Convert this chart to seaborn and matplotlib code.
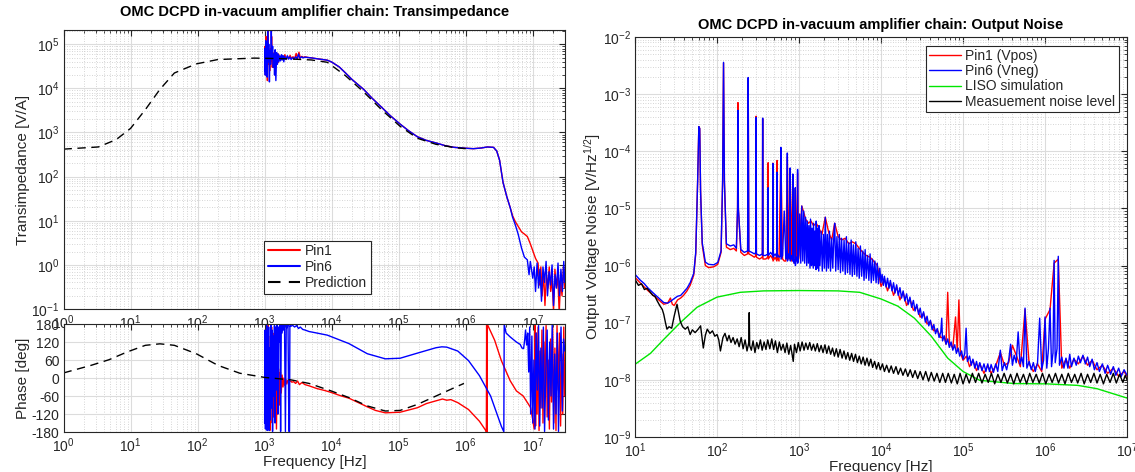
import numpy as np
import pandas as pd
import matplotlib
matplotlib.use("Agg")
import matplotlib.pyplot as plt
from matplotlib.ticker import LogLocator, NullFormatter, FixedLocator
import seaborn as sns

# ---------------- data: transimpedance (left top) ----------------
pred_f = [1, 3.3, 6.1, 10, 16.6, 27.4, 45, 95, 200, 700, 2000, 5000, 8600, 1.6e4, 3.0e4,
          5.65e4, 1.05e5, 1.9e5, 3.6e5, 6.8e5, 1.0e6]
pred_mag = [420, 470, 690, 1240, 3300, 9500, 22300, 35800, 45000, 48500, 47000, 44000, 39000,
            19500, 8300, 3200, 1380, 740, 540, 455, 430]

pin1_mag_f = [1000, 1015, 1030, 1045, 1060, 1080, 1100, 1120, 1140, 1165, 1190, 1215, 1240, 1270,
              1300, 1330, 1360, 1390, 1420, 1450, 1490, 1530, 1570, 1610, 1650, 1700, 1750, 1800,
              1850, 1900, 1950, 2000, 2100, 2200, 2300, 2400, 2500, 2650, 2800, 2950, 3100, 3250,
              3400, 3600, 3800, 4000, 4500, 5000, 6000, 7000, 8600, 1.0e4, 1.3e4, 1.6e4, 2.0e4,
              2.5e4, 3.0e4, 4.0e4, 5.65e4, 7.5e4, 1.05e5, 1.4e5, 1.9e5, 2.6e5, 3.6e5, 5.0e5,
              6.8e5, 1.0e6, 1.3e6, 1.7e6, 2.1e6, 2.6e6, 2.9e6, 3.2e6, 3.6e6, 4.1e6, 4.6e6, 5.0e6,
              5.5e6, 6.05e6, 6.8e6, 7.5e6, 8.3e6, 9.2e6, 1.0e7, 1.1e7, 1.2e7, 1.26e7, 1.32e7,
              1.38e7, 1.45e7, 1.52e7, 1.6e7, 1.68e7, 1.76e7, 1.85e7, 1.94e7, 2.04e7, 2.14e7,
              2.25e7, 2.36e7, 2.48e7, 2.6e7, 2.73e7, 2.87e7, 3.0e7]
pin1_mag = [30000, 90000, 20000, 150000, 40000, 60000, 15000, 220000, 35000, 70000, 25000, 80000,
            40000, 150000, 30000, 55000, 45000, 65000, 25000, 58000, 46000, 52000, 38000, 60000,
            44000, 50000, 47000, 55000, 45000, 53000, 48000, 58000, 47000, 52000, 49000, 56000,
            48000, 52000, 47000, 62000, 47000, 66000, 49000, 53000, 50000, 52000, 50000, 49000,
            47000, 45500, 43500, 39500, 30500, 22500, 16000, 12000, 9500, 6000, 3640, 2400, 1550,
            1100, 800, 660, 580, 500, 460, 440, 430, 445, 470, 460, 380, 235, 74, 35, 20, 13,
            9.5, 7.5, 5.6, 5.0, 4.4, 3.0, 2.1, 1.4, 1.1, 0.35, 0.9, 0.2, 0.7, 0.12, 0.6, 0.3,
            0.9, 0.25, 0.5, 0.09, 0.8, 0.3, 0.6, 0.08, 0.45, 0.2, 0.9, 0.3]

pin6_mag_f = [1000, 1008, 1022, 1038, 1052, 1070, 1090, 1110, 1130, 1152, 1178, 1202, 1228, 1255,
              1285, 1315, 1345, 1375, 1405, 1435, 1470, 1510, 1550, 1590, 1630, 1680, 1730, 1780,
              1830, 1880, 1930, 1990, 2080, 2180, 2280, 2380, 2480, 2620, 2760, 2900, 3050, 3200,
              3350, 3550, 3750, 3950, 4400, 5000, 6000, 7000, 8600, 1.0e4, 1.3e4, 1.6e4, 2.0e4,
              2.5e4, 3.0e4, 4.0e4, 5.65e4, 7.5e4, 1.05e5, 1.4e5, 1.9e5, 2.6e5, 3.6e5, 5.0e5,
              6.8e5, 1.0e6, 1.3e6, 1.7e6, 2.1e6, 2.6e6, 2.9e6, 3.2e6, 3.6e6, 4.1e6, 4.6e6, 5.0e6,
              5.5e6, 6.05e6, 6.8e6, 7.5e6, 8.3e6, 8.8e6, 9.2e6, 1.0e7, 1.05e7, 1.1e7, 1.16e7,
              1.22e7, 1.28e7, 1.35e7, 1.42e7, 1.5e7, 1.58e7, 1.66e7, 1.75e7, 1.84e7, 1.94e7,
              2.04e7, 2.15e7, 2.26e7, 2.38e7, 2.5e7, 2.63e7, 2.77e7, 2.9e7, 3.0e7]
pin6_mag = [25000, 80000, 20000, 120000, 30000, 90000, 18000, 200000, 40000, 100000, 14000, 70000,
            35000, 250000, 45000, 90000, 30000, 60000, 20000, 75000, 15000, 65000, 35000, 60000,
            40000, 55000, 42000, 58000, 44000, 55000, 40000, 53000, 45000, 55000, 46000, 52000,
            45000, 50000, 46000, 52000, 47000, 60000, 48000, 52000, 49000, 51000, 50000, 49000,
            47000, 45500, 43500, 39500, 30500, 22500, 16000, 12000, 9500, 6000, 3640, 2400, 1550,
            1100, 800, 660, 580, 500, 460, 440, 430, 445, 470, 460, 380, 235, 74, 35, 20, 12,
            8.0, 5.0, 2.4, 1.5, 1.3, 0.6, 1.2, 0.5, 0.9, 0.25, 1.1, 0.3, 0.8, 0.15, 0.9, 0.4,
            1.2, 0.2, 0.7, 0.35, 1.0, 0.12, 0.6, 0.3, 1.1, 0.2, 0.8, 0.25, 1.2, 0.4]

# ---------------- data: phase (left bottom) ----------------
pred_ph_f = [1, 2.55, 4.76, 8.9, 16.6, 27.4, 45, 95.5, 202, 426, 1000, 2450, 4600, 9800, 1.8e4,
             3.4e4, 6.3e4, 1.05e5, 1.9e5, 3.6e5, 6.8e5, 9.4e5]
pred_ph = [17, 42, 61, 87, 109, 114, 109, 81, 42, 16, 2, -6, -18, -43, -65, -93, -110, -108,
           -88, -60, -32, -18]

pin1_ph_f = [1000, 1010, 1025, 1040, 1055, 1070, 1090, 1110, 1130, 1150, 1170, 1195, 1220, 1245,
             1270, 1300, 1330, 1360, 1390, 1420, 1460, 1500, 1540, 1580, 1620, 1670, 1720, 1770,
             1820, 1880, 1940, 2000, 2070, 2140, 2210, 2280, 2360, 2450, 2550, 2700, 2900, 3100,
             3300, 3600, 4000, 4600, 6000, 8000, 9800, 1.4e4, 1.8e4, 2.5e4, 3.4e4, 4.5e4, 6.3e4,
             1.05e5, 1.5e5, 1.9e5, 2.6e5, 3.6e5, 4.5e5, 5.2e5, 6.0e5, 7.6e5, 1.1e6, 1.6e6, 1.95e6,
             2.03e6, 2.05e6, 2.08e6, 2.1e6, 2.7e6, 3.4e6, 4.6e6, 5.7e6, 7.2e6, 8.5e6, 9.3e6, 1.0e7,
             1.05e7, 1.08e7, 1.1e7, 1.13e7, 1.16e7, 1.2e7, 1.24e7, 1.28e7, 1.32e7, 1.37e7, 1.42e7,
             1.47e7, 1.52e7, 1.58e7, 1.64e7, 1.7e7, 1.77e7, 1.84e7, 1.91e7, 1.98e7, 2.06e7, 2.14e7,
             2.22e7, 2.3e7, 2.4e7, 2.5e7, 2.6e7, 2.7e7, 2.8e7, 2.9e7, 3.0e7]
pin1_ph = [40, -140, 130, -100, 160, -170, 60, -160, 175, -120, 100, -175, 140, -60, 170, -150,
           90, -130, 150, -80, 120, -170, 60, -120, 30, -90, 20, -50, 10, -30, 0, -25, -5, -20,
           -8, -15, -12, -10, -14, -12, -18, -10, -22, -15, -22, -26, -35, -42, -48, -60, -67,
           -82, -96, -108, -116, -114, -105, -99, -85, -76, -70, -74, -72, -82, -105, -144, -172,
           -179, 179, -179, 179, 126, 58, -9, -43, -60, -85, -99, -140, -170, 175, -160, 150,
           -120, 170, -175, 90, -100, 160, -150, 120, -60, 175, -130, 60, -170, 130, -80, 170,
           -150, 100, -175, 175, -40, 150, -160, 80, -120, 170, -60]

pin6_ph_f = [1000, 1012, 1028, 1042, 1058, 1075, 1092, 1110, 1128, 1148, 1168, 1190, 1212, 1235,
             1260, 1285, 1312, 1340, 1370, 1400, 1430, 1465, 1500, 1535, 1570, 1610, 1650, 1690,
             1730, 1770, 1820, 1870, 1920, 1980, 2040, 2100, 2160, 2230, 2300, 2350, 2380, 2450,
             2600, 2800, 3000, 3200, 3400, 3700, 4000, 4600, 6000, 8600, 1.8e4, 3.4e4, 6.3e4,
             1.05e5, 1.9e5, 3.6e5, 4.4e5, 5.2e5, 7.6e5, 1.1e6, 1.6e6, 2.35e6, 3.4e6, 3.7e6, 3.75e6,
             4.0e6, 4.6e6, 5.7e6, 6.5e6, 6.9e6, 7.3e6, 7.6e6, 7.8e6, 8.1e6, 8.4e6, 8.7e6, 9.0e6,
             9.3e6, 9.7e6, 1.0e7, 1.04e7, 1.08e7, 1.12e7, 1.17e7, 1.22e7, 1.27e7, 1.32e7, 1.38e7,
             1.44e7, 1.5e7, 1.57e7, 1.64e7, 1.71e7, 1.79e7, 1.87e7, 1.95e7, 2.04e7, 2.13e7, 2.22e7,
             2.32e7, 2.42e7, 2.53e7, 2.64e7, 2.76e7, 2.88e7, 3.0e7]
pin6_ph = [-150, 160, -170, 120, -90, 175, -175, 150, -60, 170, -175, 100, -140, 178, -100, 160,
           -178, 140, -60, 175, -150, 170, -40, 178, -120, 170, 120, 178, -178, 175, 150, 178, 160,
           175, -178, 178, 168, 178, -178, -178, 175, 172, 176, 170, 175, 165, 170, 162, 160, 155,
           150, 143, 115, 81, 64, 66, 83, 101, 104, 103, 90, 58, 8, -60, -161, -179, 179, 150,
           137, 120, 112, 100, 98, 130, 160, 110, 150, 20, 170, -120, 140, -150, 60, -170, 150,
           -40, 175, -160, 100, -100, 170, -178, 30, 160, -140, 120, -60, 178, -170, 80, -120,
           150, -178, 40, 170, -110, 130, 90]

# ---------------- data: output noise (right) ----------------
n6_f = [10, 11.5, 12.8, 14.5, 16.7, 19.5, 22.4, 25, 27, 29.6, 33, 36, 39, 43, 47, 52, 55, 58, 60,
        61.5, 63, 66, 72, 79, 91, 102, 112, 117, 120, 123, 130, 145, 160, 172, 178, 180, 182, 195,
        215, 236, 240, 244, 265, 285, 298, 300, 302, 330, 357, 360, 363, 390, 418, 420, 422, 450,
        478, 480, 482, 510, 537, 540, 543, 570, 597, 600, 603, 630, 660, 690, 717, 720, 723, 750,
        777, 780, 783, 810, 837, 840, 843, 870, 897, 900, 903, 930, 957, 960, 963, 990,
        1020, 1050, 1080, 1110, 1140, 1170, 1200, 1240, 1260, 1300, 1320, 1360, 1380, 1420, 1440,
        1490, 1500, 1550, 1560, 1610, 1620, 1670, 1680, 1740, 1750, 1800, 1860, 1920, 1980, 2040,
        2090, 2160, 2220, 2280, 2350, 2420, 2500, 2580, 2660, 2720, 2800, 2900, 3000, 3100, 3200,
        3300, 3420, 3540, 3660, 3780, 3900, 4040, 4180, 4320, 4460, 4600, 4760, 4920, 5080, 5250,
        5420, 5600, 5800, 6000, 6200, 6400, 6600, 6850, 7100, 7350, 7600, 7850, 8100, 8400, 8700,
        9000, 9300, 9650, 1.0e4,
        1.03e4, 1.07e4, 1.1e4, 1.15e4, 1.2e4, 1.25e4, 1.3e4, 1.36e4, 1.42e4, 1.48e4, 1.55e4,
        1.62e4, 1.7e4, 1.78e4, 1.86e4, 1.95e4, 2.05e4, 2.15e4, 2.25e4, 2.36e4, 2.48e4, 2.6e4,
        2.73e4, 2.87e4, 3.0e4, 3.15e4, 3.3e4, 3.47e4, 3.64e4, 3.82e4, 4.0e4, 4.2e4, 4.4e4,
        4.62e4, 4.85e4, 5.1e4, 5.35e4, 5.5e4, 5.62e4, 5.9e4, 6.2e4, 6.5e4, 6.8e4, 7.15e4, 7.5e4,
        7.9e4, 8.3e4, 8.7e4, 9.1e4, 9.6e4, 1.0e5, 1.05e5, 1.09e5, 1.13e5, 1.2e5, 1.26e5, 1.32e5,
        1.39e5, 1.46e5, 1.53e5, 1.6e5, 1.7e5, 1.8e5, 1.9e5, 2.0e5, 2.1e5, 2.2e5, 2.35e5, 2.5e5,
        2.65e5, 2.85e5, 3.0e5, 3.2e5, 3.4e5, 3.6e5, 3.8e5, 4.0e5, 4.2e5, 4.45e5, 4.7e5, 4.95e5,
        5.2e5, 5.45e5, 5.7e5, 6.0e5, 6.4e5, 6.8e5, 7.2e5, 7.6e5, 8.1e5, 8.6e5, 9.1e5, 9.6e5,
        1.0e6, 1.05e6, 1.1e6, 1.15e6, 1.2e6, 1.25e6, 1.29e6, 1.33e6, 1.4e6, 1.45e6, 1.5e6, 1.6e6,
        1.7e6, 1.8e6, 1.9e6, 2.0e6, 2.1e6, 2.25e6, 2.4e6, 2.55e6, 2.7e6, 2.9e6, 3.1e6, 3.3e6,
        3.5e6, 3.75e6, 4.0e6, 4.3e6, 4.6e6, 5.0e6, 5.4e6, 5.8e6, 6.3e6, 6.8e6, 7.3e6, 7.9e6,
        8.5e6, 9.2e6, 1.0e7]
n6_v = [7.0e-7, 5.6e-7, 4.9e-7, 4.0e-7, 3.3e-7, 2.7e-7, 2.25e-7, 2.2e-7, 2.35e-7, 2.6e-7, 2.9e-7,
        3.0e-7, 3.4e-7, 4.0e-7, 5.0e-7, 7.3e-7, 1.7e-6, 3e-5, 2.7e-4, 2.5e-4, 2e-5, 2.5e-6,
        1.15e-6, 1.05e-6, 1.03e-6, 1.13e-6, 1.8e-6, 3e-5, 3.6e-3, 3e-5, 2.4e-6, 2.2e-6, 2.3e-6,
        2.0e-6, 1e-5, 5.2e-4, 1e-5, 1.9e-6, 1.7e-6, 1.8e-6, 1.95e-3, 1.8e-6, 1.7e-6, 1.6e-6,
        1.7e-6, 3.9e-4, 1.6e-6, 1.5e-6, 1.6e-6, 3.8e-4, 1.5e-6, 1.5e-6, 1.6e-6, 2.3e-5, 1.5e-6,
        1.7e-6, 1.5e-6, 6.1e-5, 1.4e-6, 1.6e-6, 1.4e-6, 4.3e-5, 1.6e-6, 1.4e-6, 1.5e-6, 1.17e-4,
        1.3e-6, 1.5e-6, 9e-6, 1.3e-6, 1.4e-6, 9.3e-5, 1.2e-6, 1.6e-6, 1.3e-6, 5.1e-5, 1.2e-6,
        1.5e-6, 1.2e-6, 4e-5, 1.3e-6, 1.1e-6, 1.3e-6, 2.3e-5, 1.0e-6, 1.4e-6, 1.2e-6, 4.8e-5,
        1.1e-6, 1.5e-6,
        8e-6, 1.1e-6, 1.1e-5, 1.2e-6, 9e-6, 1.1e-6, 7e-6, 1.0e-6, 6e-6, 1.1e-6, 5e-6, 9e-7,
        6.5e-6, 1.0e-6, 4.5e-6, 9e-7, 5.5e-6, 1.0e-6, 4e-6, 8.5e-7, 6e-6, 9e-7, 4.5e-6, 8e-7,
        5e-6, 1.0e-6, 4e-6, 8e-7, 3.5e-6, 9e-7, 7e-6, 8e-7, 3.5e-6, 9e-7, 4e-6, 8e-7, 3e-6,
        9e-7, 3.5e-6, 5.5e-6, 8e-7, 3.2e-6, 8.5e-7, 3.5e-6, 7.5e-7, 3e-6, 8e-7, 2.8e-6, 7e-7,
        3.2e-6, 7.5e-7, 2.5e-6, 7e-7, 2.8e-6, 6.5e-7, 2.3e-6, 7e-7, 2.6e-6, 6.5e-7, 2.0e-6,
        6e-7, 2.2e-6, 6.5e-7, 1.8e-6, 5.5e-7, 1.9e-6, 6e-7, 1.5e-6, 5.5e-7, 1.6e-6, 5e-7,
        1.3e-6, 5.5e-7, 1.2e-6, 5e-7, 1.1e-6, 4.8e-7, 9e-7, 5e-7,
        7e-7, 4.5e-7, 6.5e-7, 4.2e-7, 6e-7, 4e-7, 5.5e-7, 3.6e-7, 5e-7, 3.3e-7, 4.6e-7, 3.0e-7,
        4.1e-7, 2.7e-7, 3.6e-7, 2.4e-7, 3.2e-7, 2.1e-7, 2.8e-7, 1.85e-7, 2.45e-7, 1.6e-7,
        2.1e-7, 1.4e-7, 1.8e-7, 1.2e-7, 1.55e-7, 1.02e-7, 1.3e-7, 8.8e-8, 1.1e-7, 7.5e-8,
        9.3e-8, 6.4e-8, 7.9e-8, 5.5e-8, 6.8e-8, 1.2e-7, 4.8e-8, 5.9e-8, 4.2e-8, 5.2e-8, 3.7e-8,
        4.6e-8, 3.3e-8, 4.1e-8, 2.9e-8, 3.6e-8, 2.6e-8, 3.2e-8, 2.3e-8, 2.9e-8, 8e-8, 2.1e-8,
        2.6e-8, 1.8e-8, 2.3e-8, 1.6e-8, 2.1e-8, 1.5e-8, 2.0e-8, 1.45e-8, 1.9e-8, 1.4e-8, 1.9e-8,
        1.4e-8, 1.85e-8, 1.35e-8, 1.9e-8, 1.4e-8, 3.3e-8, 1.45e-8, 2.0e-8, 1.5e-8, 2.2e-8,
        4.2e-8, 1.8e-8, 2.7e-8, 2.0e-8, 6.9e-8, 1.9e-8, 2.5e-8, 1.7e-8, 1.8e-7, 1.6e-8, 2.1e-8,
        1.5e-8, 2.0e-8, 1.4e-8, 2.0e-8, 1.2e-7, 1.5e-8, 2.2e-8, 1.26e-7, 1.6e-8, 3.5e-8, 1.8e-7,
        1.7e-8, 3e-8, 1.23e-6, 2e-8, 3.5e-8, 1.45e-6, 1.8e-8, 2.5e-8, 1.6e-8, 2.4e-8, 1.6e-8,
        2.8e-8, 1.7e-8, 2.4e-8, 1.8e-8, 2.6e-8, 2.0e-8, 2.7e-8, 1.9e-8, 2.5e-8, 1.7e-8, 2.3e-8,
        1.5e-8, 2.0e-8, 1.4e-8, 1.9e-8, 1.3e-8, 1.8e-8, 1.25e-8, 1.7e-8, 1.2e-8, 1.6e-8,
        1.15e-8, 1.5e-8, 1.2e-8]

n1_f = [10, 11.5, 12.8, 14.5, 16.7, 19.5, 22.4, 25, 27, 28.5, 30, 33, 36, 39, 43, 47, 52, 55,
        58, 60, 61.5, 63, 66, 72, 79, 91, 102, 112, 117, 120, 123, 130, 145, 160, 172, 178, 180,
        182, 195, 215, 236, 240, 244, 265, 285, 298, 300, 302, 330, 357, 360, 363, 390, 418, 420,
        422, 450, 478, 480, 482, 510, 537, 540, 543, 570, 600, 630, 660, 690, 720, 750, 780, 810,
        840, 870, 900, 930, 960, 990, 1080, 1140, 1200, 1300, 1400, 1500, 1620, 1750, 1900, 2090,
        2300, 2500, 2720, 3000, 3300, 3660, 4040, 4460, 4920, 5420, 6000, 6600, 7350, 8100, 9000,
        1.0e4, 1.1e4, 1.2e4, 1.3e4, 1.42e4, 1.55e4, 1.7e4, 1.86e4, 2.05e4, 2.25e4, 2.48e4,
        2.73e4, 3.0e4, 3.3e4, 3.64e4, 4.0e4, 4.4e4, 4.85e4, 5.35e4, 5.9e4, 6.2e4, 6.5e4, 6.8e4,
        7.5e4, 8.1e4, 8.5e4, 8.9e4, 9.3e4, 1.0e5, 1.1e5, 1.2e5, 1.32e5, 1.46e5, 1.6e5, 1.8e5,
        2.0e5, 2.2e5, 2.5e5, 2.85e5, 3.2e5, 3.6e5, 4.0e5, 4.5e5, 5.0e5, 5.7e5, 6.4e5, 7.2e5,
        8.1e5, 9.1e5, 1.0e6, 1.15e6, 1.29e6, 1.45e6, 1.6e6, 1.8e6, 2.0e6, 2.25e6, 2.55e6, 2.9e6,
        3.3e6, 3.75e6, 4.3e6, 5.0e6, 5.8e6, 6.8e6, 7.9e6, 9.2e6, 1.0e7]
n1_v = [6.2e-7, 5.0e-7, 4.3e-7, 3.6e-7, 3.0e-7, 2.5e-7, 2.1e-7, 2.2e-7, 2.7e-7, 2.1e-7, 2.0e-7,
        2.5e-7, 2.7e-7, 3.0e-7, 3.6e-7, 4.5e-7, 6.8e-7, 1.6e-6, 3e-5, 2.7e-4, 2.5e-4, 2e-5,
        2.3e-6, 1.0e-6, 9.2e-7, 9.5e-7, 1.05e-6, 1.7e-6, 3e-5, 3.5e-3, 3e-5, 2.1e-6, 1.9e-6,
        2.0e-6, 1.8e-6, 1e-5, 7.1e-4, 1e-5, 1.7e-6, 1.5e-6, 1.6e-6, 1.9e-3, 1.6e-6, 1.5e-6,
        1.4e-6, 1.5e-6, 4.1e-4, 1.4e-6, 1.3e-6, 1.4e-6, 3.7e-4, 1.3e-6, 1.3e-6, 1.4e-6, 6.3e-5,
        1.3e-6, 1.5e-6, 1.3e-6, 6.2e-5, 1.2e-6, 1.4e-6, 1.2e-6, 6.9e-5, 1.4e-6, 1.2e-6, 1.0e-4,
        1.3e-6, 1.2e-6, 1.2e-6, 8e-5, 1.3e-6, 4.5e-5, 1.2e-6, 3.5e-5, 1.1e-6, 2.2e-5, 1.2e-6,
        4.2e-5, 1.3e-6, 1.1e-5, 8.5e-6, 6.5e-6, 5.5e-6, 6e-6, 5e-6, 5.5e-6, 4.5e-6, 3.5e-6,
        7e-6, 3.8e-6, 2.8e-6, 5.5e-6, 3.2e-6, 2.8e-6, 3e-6, 2.4e-6, 2.6e-6, 2.4e-6, 2.0e-6,
        1.7e-6, 1.5e-6, 1.4e-6, 1.2e-6, 1.0e-6, 4.3e-7, 5.8e-7, 3.6e-7, 5.0e-7, 3.0e-7, 4.2e-7,
        2.5e-7, 3.4e-7, 2.0e-7, 2.6e-7, 1.65e-7, 1.9e-7, 1.25e-7, 1.45e-7, 9.5e-8, 1.05e-7,
        7.2e-8, 7.5e-8, 5.5e-8, 5.5e-8, 4.2e-8, 3.4e-7, 4.5e-8, 3.6e-8, 1.26e-7, 3.2e-8, 2.5e-7,
        3.0e-8, 2.2e-8, 2.6e-8, 1.7e-8, 2.2e-8, 1.45e-8, 1.9e-8, 1.3e-8, 1.8e-8, 1.3e-8,
        1.75e-8, 3.0e-8, 1.8e-8, 2.0e-8, 4.0e-8, 2.6e-8, 1.7e-8, 1.7e-7, 1.9e-8, 1.4e-8, 1.9e-8,
        1.4e-8, 1.15e-7, 1.7e-7, 1.1e-6, 1.3e-6, 1.6e-8, 2.3e-8, 1.6e-8, 2.3e-8, 1.9e-8, 2.6e-8,
        1.8e-8, 2.2e-8, 1.5e-8, 1.8e-8, 1.3e-8, 1.6e-8, 1.15e-8, 1.4e-8, 1.15e-8]

liso_f = [10, 15.4, 22.4, 35.6, 57, 100, 192, 370, 1000, 3000, 5500, 1.0e4, 1.6e4, 2.55e4, 4.1e4,
          6.5e4, 1.0e5, 1.6e5, 4.2e5, 1.05e6, 2.5e6, 4.3e6, 6.8e6, 1.0e7]
liso_v = [1.87e-8, 2.9e-8, 5.1e-8, 1.0e-7, 1.86e-7, 2.8e-7, 3.4e-7, 3.6e-7, 3.65e-7, 3.6e-7,
          3.4e-7, 2.6e-7, 1.95e-7, 1.2e-7, 5.8e-8, 2.4e-8, 1.4e-8, 9.8e-9, 8.6e-9, 8.5e-9,
          8.0e-9, 7.0e-9, 5.7e-9, 4.8e-9]

meas_f = [10, 11, 12, 13, 14, 15.4, 16.5, 17.5, 18.5, 20, 21.5, 22.4, 23.5, 24.5, 26, 28, 30,
          32.5, 34, 35.5, 38, 41, 44, 47, 50, 54, 58, 63, 66, 68, 72, 76, 82, 88, 94, 100, 105,
          110, 118, 125, 133, 140, 148, 157, 166, 176, 186, 197, 208, 220, 232, 244, 247, 250,
          262, 275, 290, 305, 320, 338, 355, 375, 395, 415, 440, 465, 490, 515, 545, 575, 605,
          640, 675, 710, 750, 790, 830, 850, 880, 930, 980, 1030, 1090, 1150, 1210, 1280, 1350,
          1420, 1500, 1580, 1670, 1760, 1860, 1960, 2070, 2180, 2300, 2430, 2560, 2700, 2850,
          3000, 3170, 3350, 3530, 3730, 3930, 4150, 4380, 4620, 4880, 5150, 5430, 5730, 6050,
          6380, 6730, 7100, 7500, 7900, 8350, 8800, 9300, 9800, 1.04e4, 1.1e4, 1.17e4, 1.25e4,
          1.33e4, 1.42e4, 1.52e4, 1.62e4, 1.73e4, 1.85e4, 1.98e4, 2.12e4, 2.27e4, 2.43e4, 2.6e4,
          2.8e4, 3.0e4, 3.25e4, 3.5e4, 3.8e4, 4.1e4, 4.45e4, 4.8e4, 5.2e4, 5.65e4, 6.1e4, 6.6e4,
          7.2e4, 7.8e4, 8.5e4, 9.2e4, 1.0e5, 1.09e5, 1.19e5, 1.3e5, 1.42e5, 1.55e5, 1.7e5,
          1.86e5, 2.03e5, 2.22e5, 2.43e5, 2.66e5, 2.9e5, 3.17e5, 3.47e5, 3.8e5, 4.15e5, 4.55e5,
          4.97e5, 5.45e5, 5.95e5, 6.5e5, 7.1e5, 7.8e5, 8.5e5, 9.3e5, 1.02e6, 1.12e6, 1.22e6,
          1.34e6, 1.46e6, 1.6e6, 1.75e6, 1.92e6, 2.1e6, 2.3e6, 2.5e6, 2.75e6, 3.0e6, 3.3e6,
          3.6e6, 3.95e6, 4.3e6, 4.7e6, 5.15e6, 5.65e6, 6.2e6, 6.8e6, 7.4e6, 8.1e6, 8.9e6, 9.5e6,
          1.0e7]
meas_v = [5.7e-7, 4.5e-7, 4.8e-7, 3.8e-7, 4.0e-7, 3.4e-7, 3.0e-7, 2.9e-7, 2.45e-7, 2.0e-7,
          1.7e-7, 1.4e-7, 1.0e-7, 7.7e-8, 8.5e-8, 8.0e-8, 1.3e-7, 2.1e-7, 1.5e-7, 1.07e-7,
          8.5e-8, 7.7e-8, 8.5e-8, 6.2e-8, 7.5e-8, 6.7e-8, 7.5e-8, 8.8e-8, 5e-8, 3.6e-8, 6e-8,
          7.7e-8, 6.5e-8, 7.2e-8, 5.8e-8, 6.2e-8, 5e-8, 3.2e-8, 5.5e-8, 6.5e-8, 4.8e-8, 6.0e-8,
          4.5e-8, 5.5e-8, 4.2e-8, 5.2e-8, 3.8e-8, 5.5e-8, 3.5e-8, 5.0e-8, 3.2e-8, 4.5e-8, 1.5e-7,
          4.0e-8, 3.3e-8, 4.8e-8, 3.0e-8, 4.5e-8, 3.5e-8, 5.0e-8, 3.3e-8, 4.6e-8, 3.4e-8, 5.0e-8,
          3.5e-8, 5.2e-8, 3.4e-8, 4.8e-8, 3.0e-8, 4.6e-8, 3.3e-8, 4.2e-8, 3.0e-8, 4.4e-8, 2.8e-8,
          4.0e-8, 2.6e-8, 2.1e-8, 4.2e-8, 3.0e-8, 4.5e-8, 3.2e-8, 4.6e-8, 3.3e-8, 4.4e-8, 3.4e-8,
          4.5e-8, 3.3e-8, 4.2e-8, 3.2e-8, 4.3e-8, 3.1e-8, 4.0e-8, 3.0e-8, 4.1e-8, 2.9e-8, 3.9e-8,
          2.8e-8, 3.6e-8, 2.6e-8, 3.5e-8, 2.5e-8, 3.4e-8, 2.4e-8, 3.2e-8, 2.3e-8, 3.0e-8, 2.2e-8,
          2.9e-8, 2.1e-8, 2.8e-8, 2.0e-8, 2.6e-8, 1.9e-8, 2.5e-8, 1.8e-8, 2.4e-8, 1.75e-8,
          2.3e-8, 1.65e-8, 2.1e-8, 1.55e-8, 2.0e-8, 1.5e-8, 1.9e-8, 1.4e-8, 1.8e-8, 1.35e-8,
          1.75e-8, 1.3e-8, 1.7e-8, 1.25e-8, 1.6e-8, 1.2e-8, 1.55e-8, 1.15e-8, 1.5e-8, 1.1e-8,
          1.45e-8, 1.05e-8, 1.4e-8, 1.0e-8, 1.4e-8, 9.5e-9, 1.35e-8, 9.5e-9, 1.3e-8, 9e-9,
          1.3e-8, 9e-9, 1.3e-8, 8.8e-9, 1.25e-8, 8.5e-9, 1.3e-8, 8.5e-9, 1.25e-8, 8.8e-9, 1.3e-8,
          9e-9, 1.3e-8, 8.8e-9, 1.25e-8, 9e-9, 1.3e-8, 8.5e-9, 1.25e-8, 9e-9, 1.3e-8, 8.8e-9,
          1.25e-8, 8.5e-9, 1.3e-8, 9e-9, 1.25e-8, 8.5e-9, 1.3e-8, 9e-9, 1.25e-8, 8.8e-9, 1.3e-8,
          8.5e-9, 1.25e-8, 9e-9, 1.3e-8, 8.8e-9, 1.25e-8, 8.5e-9, 1.3e-8, 9e-9, 1.25e-8, 8.8e-9,
          1.3e-8, 8.5e-9, 1.25e-8, 9e-9, 1.3e-8, 8.8e-9, 1.25e-8, 8.5e-9, 1.25e-8, 9e-9, 1.3e-8,
          8.8e-9, 1.25e-8, 9e-9, 1.2e-8, 1.0e-8]

phase_ticks = [-180, -120, -60, 0, 60, 120, 180]

# ---------------- style ----------------
sns.set_style("white")
plt.rcParams["font.family"] = ["Liberation Sans", "DejaVu Sans"]
plt.rcParams["mathtext.fontset"] = "custom"
plt.rcParams["mathtext.rm"] = "Liberation Sans"
plt.rcParams["mathtext.it"] = "Liberation Sans:italic"
TXT = "#262626"
TICK_FS = 10
LAB_FS = 11

fig = plt.figure(figsize=(11.35, 4.72), dpi=100)
ax1 = fig.add_axes([0.056, 0.3453, 0.442, 0.5911])
ax2 = fig.add_axes([0.056, 0.0847, 0.442, 0.2288])
ax3 = fig.add_axes([0.5595, 0.0742, 0.4335, 0.8475])


def style_axis(ax, logy=True):
    ax.set_xscale("log")
    if logy:
        ax.set_yscale("log")
    ax.set_facecolor("white")
    for s in ax.spines.values():
        s.set_color(TXT)
        s.set_linewidth(0.8)
    ax.tick_params(which="both", direction="in", top=True, right=True, colors=TXT,
                   labelsize=TICK_FS, labelcolor=TXT, pad=3)
    ax.tick_params(which="major", length=4)
    ax.tick_params(which="minor", length=2)
    ax.xaxis.set_major_locator(LogLocator(base=10, numticks=30))
    ax.xaxis.set_minor_locator(LogLocator(base=10, subs=np.arange(2, 10), numticks=300))
    ax.xaxis.set_minor_formatter(NullFormatter())
    if logy:
        ax.yaxis.set_major_locator(LogLocator(base=10, numticks=30))
        ax.yaxis.set_minor_locator(LogLocator(base=10, subs=np.arange(2, 10), numticks=300))
        ax.yaxis.set_minor_formatter(NullFormatter())
    ax.grid(True, which="major", color="#dcdcdc", lw=0.8, ls="-")
    ax.grid(True, which="minor", color="#c8c8c8", lw=0.6, ls=(0, (1, 2)))
    ax.set_axisbelow(True)


def line(ax, f, v, color, lw=1.0, label=None, dashes=None):
    df = pd.DataFrame({"f": f, "v": v})
    sns.lineplot(data=df, x="f", y="v", ax=ax, color=color, lw=lw, estimator=None,
                 sort=False, label=label, legend=False)
    ln = ax.get_lines()[-1]
    if dashes is not None:
        ln.set_dashes(dashes)
    return ln


# ---- transimpedance ----
style_axis(ax1)
h1 = line(ax1, pin1_mag_f, pin1_mag, "#ff0000", label="Pin1")
h2 = line(ax1, pin6_mag_f, pin6_mag, "#0000ff", label="Pin6")
h3 = line(ax1, pred_f, pred_mag, "black", lw=1.0, label="Prediction", dashes=(6, 4))
ax1.set_xlim(1, 3.05e7)
ax1.set_ylim(0.1, 2.1e5)
ax1.set_xlabel("")
ax1.set_ylabel("Transimpedance [V/A]", fontsize=LAB_FS, color=TXT, labelpad=1)
ax1.set_title("OMC DCPD in-vacuum amplifier chain: Transimpedance", fontsize=10.5,
              fontweight="bold", color="black", pad=10)
leg1 = ax1.legend(handles=[h1, h2, h3], labels=["Pin1", "Pin6", "Prediction"],
                  loc="lower left", bbox_to_anchor=(0.40, 0.055), fontsize=10,
                  frameon=True, fancybox=False, edgecolor=TXT, framealpha=1,
                  handlelength=2.3, borderpad=0.25, labelspacing=0.15, handletextpad=0.4,
                  borderaxespad=0)
leg1.get_frame().set_linewidth(0.8)
for lh in leg1.get_lines():
    lh.set_linewidth(1.5)

# ---- phase ----
style_axis(ax2, logy=False)
line(ax2, pin1_ph_f, pin1_ph, "#ff0000")
line(ax2, pin6_ph_f, pin6_ph, "#0000ff")
line(ax2, pred_ph_f, pred_ph, "black", lw=1.0, dashes=(6, 4))
ax2.set_xlim(1, 3.05e7)
ax2.set_ylim(-180, 180)
ax2.yaxis.set_major_locator(FixedLocator(phase_ticks))
ax2.set_yticklabels([str(t) for t in phase_ticks])
ax2.set_xlabel("Frequency [Hz]", fontsize=LAB_FS, color=TXT, labelpad=0)
ax2.set_ylabel("Phase [deg]", fontsize=LAB_FS, color=TXT, labelpad=1)

# ---- noise ----
style_axis(ax3)
g1 = line(ax3, n1_f, n1_v, "#ff0000", label="Pin1 (Vpos)")
g2 = line(ax3, n6_f, n6_v, "#0000ff", label="Pin6 (Vneg)")
g3 = line(ax3, liso_f, liso_v, "#00e600", label="LISO simulation")
g4 = line(ax3, meas_f, meas_v, "black", label="Measuement noise level")
ax3.set_xlim(10, 1e7)
ax3.set_ylim(1e-9, 1e-2)
ax3.set_xlabel("Frequency [Hz]", fontsize=LAB_FS, color=TXT, labelpad=0)
ax3.set_ylabel("Output Voltage Noise [V/Hz$^{1/2}$]", fontsize=LAB_FS, color=TXT, labelpad=0)
ax3.set_title("OMC DCPD in-vacuum amplifier chain: Output Noise", fontsize=10.5,
              fontweight="bold", color="black", pad=6)
leg3 = ax3.legend(handles=[g1, g2, g3, g4],
                  labels=["Pin1 (Vpos)", "Pin6 (Vneg)", "LISO simulation", "Measuement noise level"],
                  loc="upper right", bbox_to_anchor=(0.983, 0.978), fontsize=10,
                  frameon=True, fancybox=False, edgecolor=TXT, framealpha=1,
                  handlelength=2.3, borderpad=0.25, labelspacing=0.08, handletextpad=0.3,
                  borderaxespad=0)
leg3.get_frame().set_linewidth(0.8)

fig.savefig("out.png", dpi=100, facecolor="white")
